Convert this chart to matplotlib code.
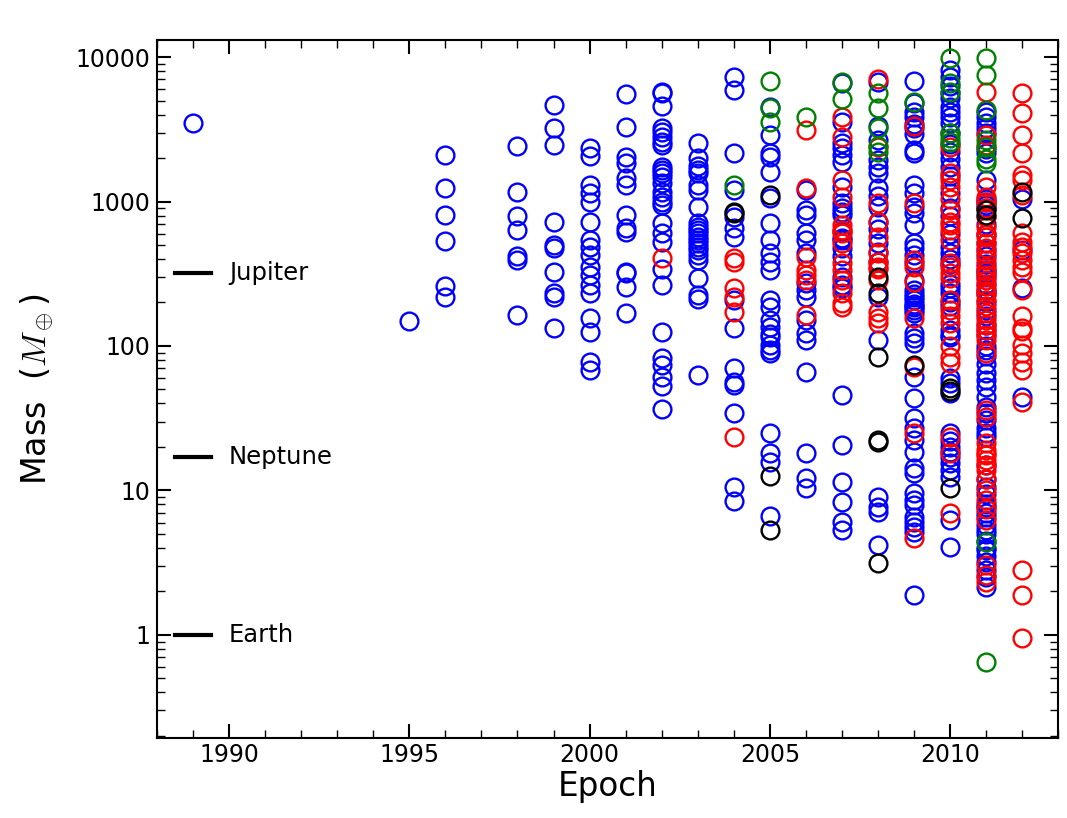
import matplotlib
matplotlib.use('Agg')
import matplotlib.pyplot as plt
import matplotlib.ticker as ticker

plt.rcParams['mathtext.fontset'] = 'cm'

# masses (Earth masses) per discovery year, split by colour of marker
blue = {
    1989: [3500],
    1995: [150],
    1996: [2100, 1240, 806, 533, 260, 218],
    1998: [2420, 1164, 794, 635, 420, 394, 164],
    1999: [4655, 3228, 2460, 721, 500, 476, 325, 233, 218, 133],
    2000: [2345, 2065, 1301, 1145, 1000, 721, 541, 484, 426, 352, 310, 264, 233,
           156, 125, 77.6, 68.3],
    2001: [5546, 3280, 2032, 1847, 1454, 1301, 806, 656, 615, 325, 320, 256, 169],
    2002: [5728, 5636, 4583, 3228, 3027, 2794, 2582, 2460, 1734, 1652, 1574, 1478,
           1343, 1164, 1073, 1000, 946, 710, 605, 525, 341, 264, 125, 82.6, 73.9,
           61, 52.9, 36.7],
    2003: [2541, 2000, 1761, 1652, 1574, 1301, 1202, 916, 710, 666, 635, 605, 568,
           541, 517, 484, 461, 426, 394, 296, 225, 211, 63],
    2004: [7310, 5915, 2156, 1202, 780, 656, 571, 208, 133, 70.1, 56.7, 53.8, 34.2,
           10.6, 8.5],
    2005: [4530, 2885, 2156, 2043, 1607, 1052, 706, 541, 438, 383, 336, 208, 187,
           151, 136, 122, 115, 102, 93.8, 89.5, 24.9, 18.1, 15.8, 6.66],
    2006: [1202, 873, 806, 603, 541, 440, 273, 244, 219, 151, 123, 110, 66.4, 18.1,
           12.1, 10.4],
    2007: [6573, 3569, 2541, 2345, 2099, 1885, 1265, 970, 900, 850, 806, 620, 560,
           541, 480, 420, 300, 264, 250, 45.8, 20.6, 11.5, 8.28, 6.08, 5.33],
    2008: [6745, 3327, 2667, 1935, 1741, 1566, 1234, 1100, 923, 724, 650, 514, 450,
           380, 219, 110, 9.06, 7.72, 7.13, 4.20],
    2009: [6855, 4775, 4180, 3864, 3434, 3228, 2932, 2270, 2156, 1301, 1140, 916,
           828, 687, 514, 475, 426, 373, 286, 244, 230, 220, 208, 195, 190, 185,
           177, 170, 123, 114, 105, 61.4, 43.5, 31.6, 26.9, 22.3, 18.5, 14.3, 13.2,
           9.6, 8.6, 7.94, 6.56, 6.05, 5.59, 5.16, 1.89],
    2010: [8126, 7310, 6295, 5610, 5176, 4530, 4180, 3864, 3475, 3000, 2500, 2200,
           1977, 1741, 1500, 1140, 900, 800, 600, 487, 438, 400, 370, 270, 250,
           231, 200, 190, 130, 120, 116, 60, 55, 47.1, 25.0, 22, 20, 18.5, 17,
           15.5, 13.9, 12.4, 6.25, 4.08],
    2011: [4180, 3864, 3475, 3212, 3000, 2300, 2156, 1408, 1041, 1000, 950, 900,
           700, 600, 520, 460, 420, 370, 336, 320, 300, 270, 244, 230, 200, 177,
           160, 140, 129, 120, 100, 93.8, 85, 75, 65, 58, 52.3, 44.5, 38.0, 34.2,
           30.8, 27, 25, 23.6, 15, 12, 10.6, 9.5, 8, 7.72, 7, 6.5, 5.8, 5.33, 5,
           4.5, 4, 3.87, 3.5, 3.2, 2.82, 2.5, 2.16],
    2012: [1041, 461, 251, 44.5],
}
red = {
    2002: [406],
    2004: [406, 383, 252, 219, 173, 23.3],
    2006: [3126, 1234, 415, 336, 310, 286, 164],
    2007: [3864, 2806, 1408, 1080, 687, 635, 603, 514, 373, 336, 286, 231, 198, 187],
    2008: [7096, 2394, 970, 718, 571, 438, 383, 353, 343, 286, 173, 155, 144],
    2009: [3327, 970, 394, 353, 279, 155, 71.9, 24.9, 4.69],
    2010: [2394, 1566, 1408, 1265, 1041, 873, 718, 687, 635, 541, 373, 353, 318,
           294, 208, 177, 160, 144, 99.5, 84.3, 75.9, 23.6, 18.1, 6.95],
    2011: [5756, 2885, 2460, 1265, 1080, 1000, 900, 785, 669, 600, 571, 514, 480,
           438, 394, 353, 330, 310, 286, 260, 240, 230, 208, 190, 170, 151, 140,
           130, 120, 110, 90, 36.1, 32.4, 21.2, 19.1, 18, 17.6, 16.3, 15, 13.9, 12,
           10, 8.6, 7.5, 6.25, 3.05, 2.6, 2.34],
    2012: [5610, 4093, 2885, 2156, 1523, 1408, 1109, 603, 527, 487, 438, 394, 353,
           327, 244, 160, 133, 126, 102, 89.0, 77.9, 68.3, 41.2, 2.82, 1.89, 0.95],
}
green = {
    2004: [1301],
    2005: [6855, 4416, 3569],
    2006: [3864],
    2007: [6745, 5097],
    2008: [5610, 4416, 3249, 2420, 2211],
    2009: [4897],
    2010: [9795, 6573, 5756, 2966, 2737, 2594],
    2011: [9900, 7500, 4295, 2667, 2394, 1977, 1836, 4.43, 0.653],
}
black = {
    2004: [849, 833],
    2005: [1109, 12.6, 5.33],
    2008: [302, 231, 84.3, 22.3, 21.7, 3.13],
    2009: [73.8],
    2010: [50.9, 49, 10.4],
    2011: [873, 806],
    2012: [1170, 765],
}

planets = ['Jupiter', 'Neptune', 'Earth']
planet_mass = [317.8, 17.15, 1.0]

fig = plt.figure(figsize=(10.67, 8.18), dpi=100)
ax = fig.add_axes([0.147, 0.098, 0.845, 0.853])

for data, col in [(blue, 'b'), (red, 'r'), (green, 'g'), (black, 'k')]:
    xs, ys = [], []
    for yr, ms in data.items():
        xs += [yr] * len(ms)
        ys += ms
    ax.plot(xs, ys, 'o', mfc='none', mec=col, ms=12.8, mew=1.7, ls='none')

for name, m in zip(planets, planet_mass):
    ax.plot([1988.5, 1989.5], [m, m], 'k-', lw=3)
    ax.text(1990, m, name, fontsize=17.5, va='center', ha='left')

ax.set_yscale('log')
ax.set_xlim(1988, 2013)
ax.set_ylim(0.194, 13100)

ax.xaxis.set_major_locator(ticker.MultipleLocator(5))
ax.xaxis.set_minor_locator(ticker.MultipleLocator(1))
ax.yaxis.set_major_locator(ticker.FixedLocator([1, 10, 100, 1000, 10000]))
ax.yaxis.set_major_formatter(ticker.FuncFormatter(lambda v, p: '%d' % v))
ax.yaxis.set_minor_locator(ticker.LogLocator(base=10, subs=range(2, 10)))
ax.yaxis.set_minor_formatter(ticker.NullFormatter())

ax.tick_params(which='both', direction='in', top=True, right=True, labelsize=17)
ax.tick_params(which='major', length=10, width=1.5)
ax.tick_params(which='minor', length=6, width=1)
ax.tick_params(axis='x', which='major', pad=4)
ax.tick_params(axis='y', which='major', pad=5)
for s in ax.spines.values():
    s.set_linewidth(1.5)

ax.set_xlabel('Epoch', fontsize=23.5, labelpad=2)
ax.set_ylabel(r'Mass  ($M_\oplus$)', fontsize=24, labelpad=14)

fig.savefig('out.png', dpi=100)
